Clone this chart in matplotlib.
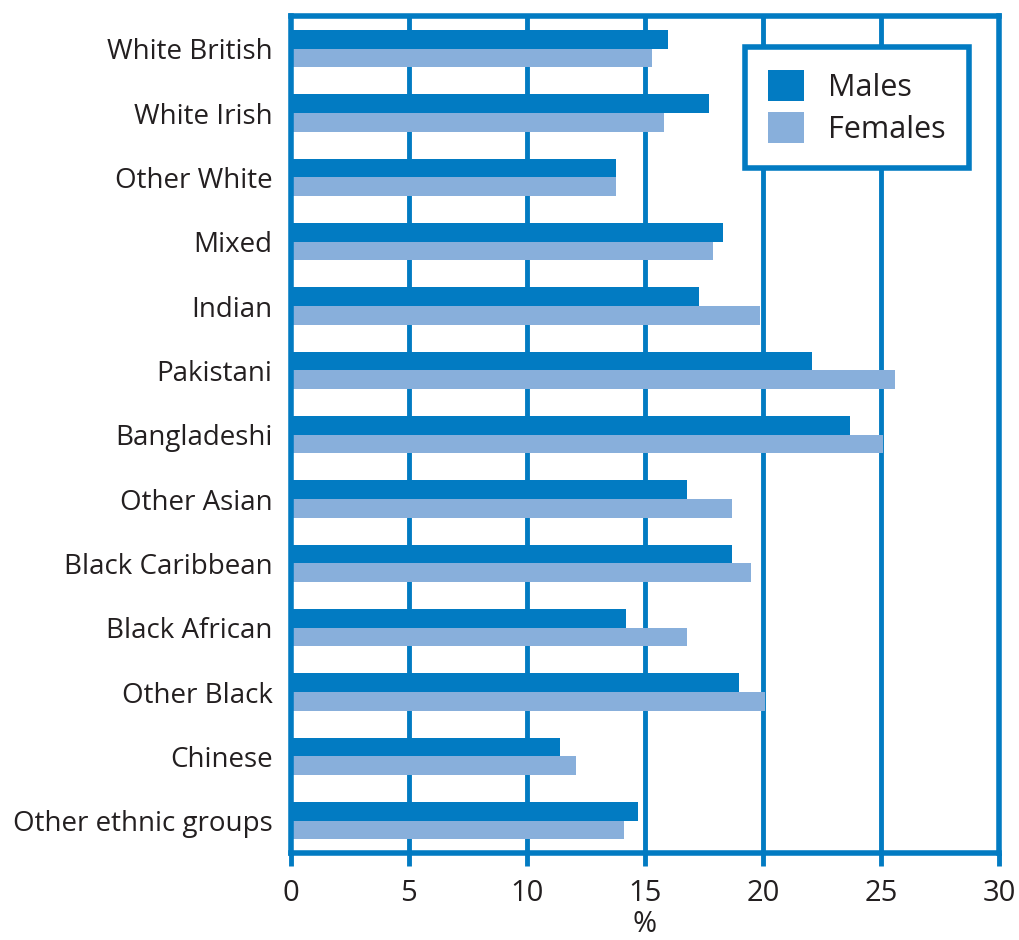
import numpy as np
import matplotlib
matplotlib.use("Agg")
import matplotlib.pyplot as plt

# data (% of each group)
groups = ['White British', 'White Irish', 'Other White', 'Mixed', 'Indian',
          'Pakistani', 'Bangladeshi', 'Other Asian', 'Black Caribbean',
          'Black African', 'Other Black', 'Chinese', 'Other ethnic groups']
males = [16.0, 17.7, 13.8, 18.3, 17.3, 22.1, 23.7, 16.8, 18.7, 14.2, 19.0, 11.4, 14.7]
females = [15.3, 15.8, 13.8, 17.9, 19.9, 25.6, 25.1, 18.7, 19.5, 16.8, 20.1, 12.1, 14.1]
xticks = [0, 5, 10, 15, 20, 25, 30]

blue = '#027bc2'
light = '#88afdb'
txt = '#231f20'

matplotlib.rcParams.update({'font.family': ['Open Sans', 'DejaVu Sans'], 'font.size': 20})

fig = plt.figure(figsize=(10.19, 9.4), dpi=100)
ax = fig.add_axes([0.2851, 0.0926, 0.9804 - 0.2851, 0.983 - 0.0926])

y = np.arange(len(groups))
h = 0.29
ax.barh(y - h / 2, males, height=h, color=blue, label='Males', zorder=3)
ax.barh(y + h / 2, females, height=h, color=light, label='Females', zorder=3)

ax.set_xlim(0, 30)
ax.set_ylim(12.5, -0.51)
ax.set_xticks(xticks)
ax.set_yticks(y)
ax.set_yticklabels(groups, color=txt)
ax.tick_params(axis='y', length=0, pad=13)
ax.tick_params(axis='x', length=9, width=3.5, color=blue, pad=10, labelcolor=txt, labelsize=21)
ax.set_xlabel('%', color=txt, labelpad=1.5, fontsize=21)

for x in xticks[1:-1]:
    ax.axvline(x, color=blue, lw=3.5, zorder=1)
for s in ax.spines.values():
    s.set_color(blue)
    s.set_linewidth(4)
    s.set_zorder(4)

leg = ax.legend(loc='upper left', bbox_to_anchor=(0.731, 0.950), bbox_transform=fig.transFigure,
                fancybox=False, framealpha=1, edgecolor=blue, handlelength=1.18, handleheight=1.18,
                handletextpad=0.8, borderpad=0.75, labelspacing=0.3, borderaxespad=0, fontsize=22)
leg.get_frame().set_linewidth(4)
for t in leg.get_texts():
    t.set_color(txt)

fig.savefig('out.png', dpi=100)
